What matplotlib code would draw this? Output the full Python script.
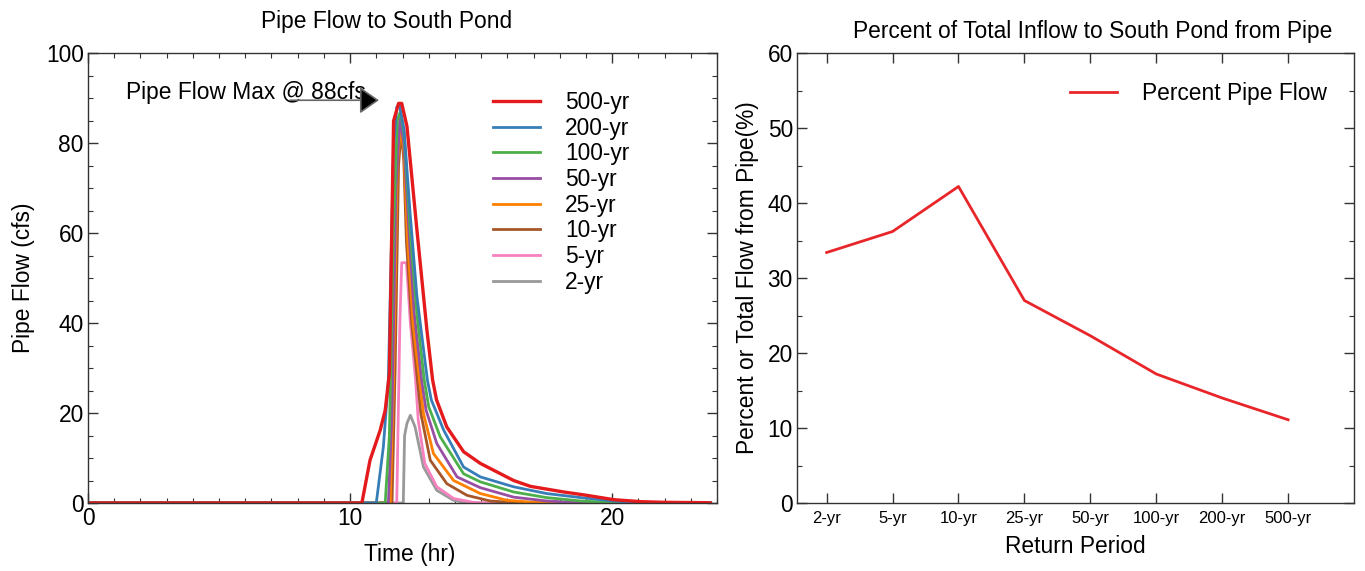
import matplotlib
matplotlib.use("Agg")
import matplotlib.pyplot as plt
from matplotlib.ticker import MultipleLocator

plt.rcParams['font.family'] = ['Liberation Sans', 'DejaVu Sans']

# ---------------- data ----------------
labels_rp = ["500-yr", "200-yr", "100-yr", "50-yr", "25-yr", "10-yr", "5-yr", "2-yr"]
colors_rp = ["#e41a1c", "#377eb8", "#4daf4a", "#984ea3", "#ff7f00", "#a65628", "#f781bf", "#999999"]

t_500 = [0, 10.45, 10.76, 11.15, 11.34, 11.5, 11.66, 11.85, 11.97, 12.17, 12.55, 12.93, 13.15, 13.3, 13.69,
         14.33, 14.97, 16.24, 16.88, 18.15, 19.04, 20.06, 21.08, 22.0, 23.6, 23.75]
q_500 = [0, 0, 9.5, 16.2, 20.6, 28.8, 84.9, 88.8, 88.8, 83.7, 60.7, 38.5, 27.3, 22.9, 16.9,
         11.4, 8.8, 5.0, 3.7, 2.45, 1.7, 0.74, 0.3, 0.15, 0.07, 0]

t_200 = [0, 11.0, 11.27, 11.46, 11.66, 11.78, 11.88, 12.06, 12.29, 12.55, 12.95, 13.1, 13.57, 14.33, 14.97,
         16.24, 17.5, 18.8, 20.06, 20.8, 21.5, 23.75]
q_200 = [0, 0, 12.5, 27.3, 79, 88, 88.5, 83, 64.4, 45.9, 27.3, 22.9, 16.2, 8.0, 5.8,
         3.6, 2.1, 1.2, 0.45, 0.15, 0, 0]

t_100 = [0, 11.34, 11.5, 11.65, 11.8, 11.92, 12.06, 12.3, 12.55, 12.83, 13.0, 13.44, 14.33, 14.97,
         16.24, 17.5, 18.8, 19.8, 20.5, 23.75]
q_100 = [0, 0, 15, 60, 85, 87, 82, 60, 42, 27.3, 21.4, 14.7, 6.5, 4.7,
         2.45, 1.2, 0.45, 0.15, 0, 0]

t_50 = [0, 11.46, 11.6, 11.75, 11.9, 12.05, 12.25, 12.45, 12.73, 12.9, 13.31, 14.08, 14.97,
        16.24, 17.5, 18.5, 19.2, 23.75]
q_50 = [0, 0, 20, 70, 85.5, 80, 60, 42, 27.3, 20.6, 13.2, 5.8, 3.4,
        1.3, 0.45, 0.15, 0, 0]

t_25 = [0, 11.53, 11.65, 11.8, 11.93, 12.05, 12.2, 12.4, 12.65, 12.8, 13.18, 13.95, 14.97,
        15.99, 17.0, 17.7, 23.75]
q_25 = [0, 0, 25, 75, 84, 78, 58, 40, 27.3, 19.9, 11.0, 5.0, 2.1,
        0.6, 0.15, 0, 0]

t_10 = [0, 11.6, 11.72, 11.85, 11.95, 12.05, 12.15, 12.35, 12.57, 12.7, 13.06, 13.69, 14.46,
        15.35, 16.24, 16.8, 23.75]
q_10 = [0, 0, 30, 75, 83, 76, 58, 40, 27.3, 19.9, 9.5, 4.3, 1.7,
        0.45, 0.1, 0, 0]

t_5 = [0, 11.78, 11.9, 11.97, 12.15, 12.3, 12.5, 12.6, 12.85, 13.31, 13.95, 14.7, 15.2, 23.75]
q_5 = [0, 0, 40, 53.4, 53.4, 40, 27.3, 18.4, 8.8, 3.6, 1.0, 0.15, 0, 0]

t_2 = [0, 12.03, 12.08, 12.17, 12.3, 12.48, 12.8, 13.31, 13.95, 14.46, 23.75]
q_2 = [0, 0, 15, 17.7, 19.5, 16.9, 8.0, 2.8, 0.6, 0, 0]

series_t = [t_500, t_200, t_100, t_50, t_25, t_10, t_5, t_2]
series_q = [q_500, q_200, q_100, q_50, q_25, q_10, q_5, q_2]

rp_categories = ["2-yr", "5-yr", "10-yr", "25-yr", "50-yr", "100-yr", "200-yr", "500-yr"]
pct_pipe = [33.4, 36.2, 42.2, 27.0, 22.3, 17.2, 14.0, 11.1]

# ---------------- figure ----------------
W, H = 1365, 571
fig = plt.figure(figsize=(W / 100, H / 100), dpi=100)
ax1 = fig.add_axes([88 / W, 1 - 503 / H, (717 - 88) / W, (503 - 53) / H])
ax2 = fig.add_axes([797 / W, 1 - 503 / H, (1354 - 797) / W, (503 - 53) / H])

FS = 16.4
spine_c = "#333333"

# left plot: draw smallest first so red is on top
lines = {}
for lab, col, tt, qq in reversed(list(zip(labels_rp, colors_rp, series_t, series_q))):
    lw = 2.4 if lab == "500-yr" else 2.0
    ln, = ax1.plot(tt, qq, color=col, lw=lw, label=lab, solid_joinstyle='round')
    lines[lab] = ln

ax1.set_xlim(0, 24)
ax1.set_ylim(0, 100)
ax1.xaxis.set_major_locator(MultipleLocator(10))
ax1.xaxis.set_minor_locator(MultipleLocator(1))
ax1.yaxis.set_major_locator(MultipleLocator(20))
ax1.yaxis.set_minor_locator(MultipleLocator(5))
ax1.set_xlabel("Time (hr)", fontsize=FS, labelpad=10)
ax1.xaxis.set_label_coords(0.512, -0.09)
ax1.set_ylabel("Pipe Flow (cfs)", fontsize=FS, labelpad=8)
ax1.set_title("Pipe Flow to South Pond", fontsize=FS, pad=18, x=0.474)

ax1.legend([lines[l] for l in labels_rp], labels_rp, loc="upper left",
           bbox_to_anchor=(0.644, 0.916), frameon=False, fontsize=FS,
           handlelength=2.05, handletextpad=1.1, labelspacing=0.12,
           borderpad=0, borderaxespad=0)

ax1.text(1.45, 91.3, "Pipe Flow Max @ 88cfs", fontsize=FS, ha="left", va="center")
ax1.annotate("", xy=(11.1, 89.5), xytext=(7.7, 89.5),
             arrowprops=dict(arrowstyle="-|>,head_length=0.6,head_width=0.42",
                             mutation_scale=20, ec="#666666", fc="black", lw=1.2,
                             shrinkA=0, shrinkB=0))

# right plot
x_idx = list(range(len(rp_categories)))
ax2.plot(x_idx, pct_pipe, color="#e8262a", lw=2.0, label="Percent Pipe Flow")
ax2.set_xlim(-0.45, 8.0)
ax2.set_ylim(0, 60)
ax2.set_xticks(x_idx)
ax2.set_xticklabels(rp_categories, fontsize=12)
ax2.yaxis.set_major_locator(MultipleLocator(10))
ax2.yaxis.set_minor_locator(MultipleLocator(5))
ax2.set_xlabel("Return Period", fontsize=FS, labelpad=6)
ax2.set_ylabel("Percent or Total Flow from Pipe(%)", fontsize=FS, labelpad=6)
ax2.set_title("Percent of Total Inflow to South Pond from Pipe", fontsize=FS, pad=11, x=0.53)
ax2.legend(loc="upper left", bbox_to_anchor=(0.49, 0.936), frameon=False, fontsize=FS,
           handlelength=2.05, handletextpad=1.1, borderpad=0, borderaxespad=0)

for ax in (ax1, ax2):
    for s in ax.spines.values():
        s.set_color(spine_c)
        s.set_linewidth(1.0)
    ax.tick_params(which="both", direction="in", top=True, right=True, colors=spine_c,
                   labelcolor="black")
    ax.tick_params(which="major", length=7, width=1.0, labelsize=FS, pad=3)
    ax.tick_params(which="minor", length=3.5, width=0.8)
ax2.tick_params(axis="x", which="major", labelsize=12, pad=6)

fig.savefig("out.png", dpi=100)
